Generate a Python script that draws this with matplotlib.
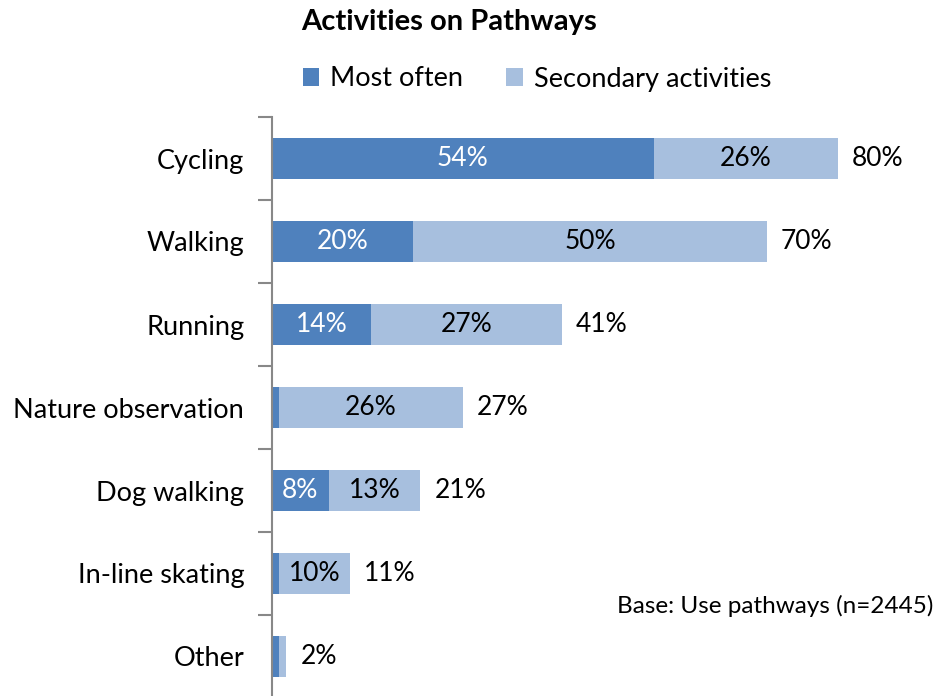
import matplotlib.pyplot as plt

categories = ['Cycling', 'Walking', 'Running', 'Nature observation',
              'Dog walking', 'In-line skating', 'Other']
most_often = [54, 20, 14, 1, 8, 1, 1]
secondary = [26, 50, 27, 26, 13, 10, 1]
totals = [80, 70, 41, 27, 21, 11, 2]

plt.rcParams['font.family'] = ['Lato', 'DejaVu Sans']

dark = '#4F81BD'
light = '#A7BFDE'

fig = plt.figure(figsize=(9.35, 6.96), dpi=100)
ax = fig.add_axes([272 / 935, -2 / 696, 707 / 935, 581 / 696])

y = list(range(len(categories)))
ax.barh(y, most_often, height=0.5, color=dark, label='Most often')
ax.barh(y, secondary, left=most_often, height=0.5, color=light,
        label='Secondary activities')

for i in y:
    if most_often[i] >= 5:
        ax.text(most_often[i] / 2, i, f'{most_often[i]}%', color='white',
                ha='center', va='center', fontsize=19)
    if secondary[i] >= 5:
        ax.text(most_often[i] + secondary[i] / 2, i, f'{secondary[i]}%',
                color='black', ha='center', va='center', fontsize=19)
    ax.text(totals[i] + 2, i, f'{totals[i]}%', color='black',
            ha='left', va='center', fontsize=19)

ax.set_xlim(0, 100)
ax.set_ylim(len(categories) - 0.5, -0.5)
ax.set_yticks(y, labels=categories, fontsize=19.5)
ax.set_yticks([i - 0.5 for i in range(len(categories) + 1)], minor=True)
ax.tick_params(axis='y', which='major', length=0, pad=20)
ax.tick_params(axis='y', which='minor', length=10, width=1.5, color='#888888')
ax.set_xticks([])
for s in ['top', 'right', 'bottom']:
    ax.spines[s].set_visible(False)
ax.spines['left'].set_color('#888888')
ax.spines['left'].set_linewidth(1.5)

fig.text(449 / 935, 1 - 22 / 696, 'Activities on Pathways', fontsize=21,
         fontweight='bold', ha='center', va='center')
fig.legend(loc='center', bbox_to_anchor=(537 / 935, 1 - 79 / 696), ncol=2,
           frameon=False, fontsize=19.5, handlelength=0.6, handleheight=0.6,
           handletextpad=0.4, columnspacing=1.6)
fig.text(933 / 935, 1 - 606 / 696, 'Base: Use pathways (n=2445)', fontsize=17.5,
         ha='right', va='center')

fig.savefig('out.png', dpi=100)
